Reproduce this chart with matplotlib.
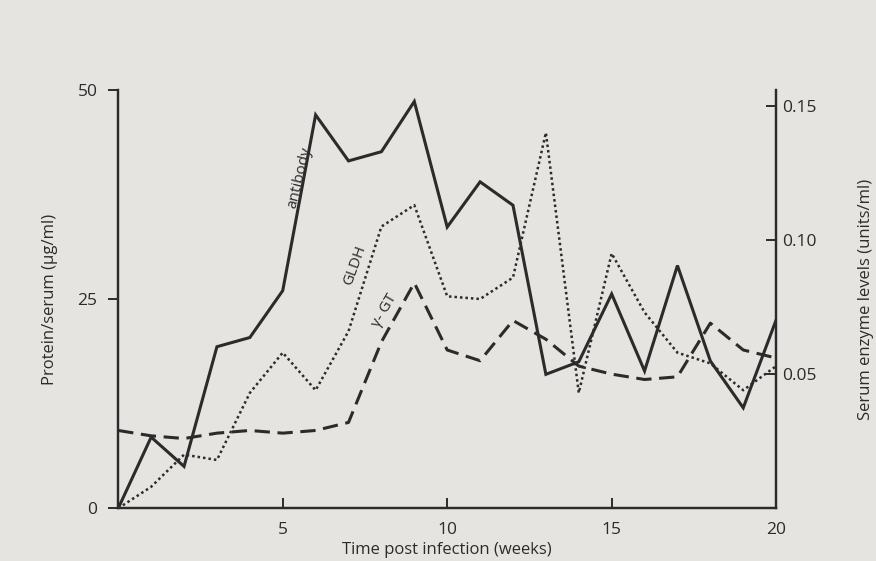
import numpy as np
import matplotlib
matplotlib.use('Agg')
import matplotlib.pyplot as plt

# Weeks after infection
weeks = list(range(21))

# Antibody, protein/serum (ug/ml) - left axis
antibody = [0, 8.5, 5, 19.3, 20.4, 26, 47, 41.5, 42.6, 48.6, 33.6,
            39, 36.2, 16, 17.5, 25.6, 16.4, 29, 17.6, 12, 22.5]

# Serum enzyme levels (units/ml) - right axis
gldh = [0, 0.008, 0.020, 0.018, 0.043, 0.058, 0.044, 0.066, 0.105, 0.113, 0.079,
        0.078, 0.086, 0.140, 0.043, 0.095, 0.073, 0.058, 0.054, 0.044, 0.053]
ggt = [0.029, 0.027, 0.026, 0.028, 0.029, 0.028, 0.029, 0.032, 0.062, 0.084, 0.059,
       0.055, 0.070, 0.063, 0.053, 0.050, 0.048, 0.049, 0.069, 0.059, 0.056]

left_ticks = [0, 25, 50]
right_ticks = [0.05, 0.10, 0.15]
right_labels = ['0.05', '0.10', '0.15']
x_ticks = [5, 10, 15, 20]

ink = '#2b2b2b'
paper = '#e6e4e1'
plt.rcParams['font.family'] = ['Open Sans', 'DejaVu Sans']

fig = plt.figure(figsize=(8.76, 5.61), dpi=100, facecolor=paper)
ax = fig.add_axes([0.135, 0.094, 0.751, 0.746])
ax.set_facecolor(paper)
ax2 = ax.twinx()

ax.plot(weeks, antibody, color=ink, lw=2.2, solid_joinstyle='miter')
ax2.plot(weeks, gldh, color=ink, lw=1.8, linestyle=(0, (1, 1.2)))
ax2.plot(weeks, ggt, color=ink, lw=2.2, linestyle=(0, (5, 2.5)))

ax.set_xlim(0, 20)
ax.set_ylim(0, 50)
ax2.set_ylim(0, 0.156)

for a in (ax, ax2):
    a.spines['top'].set_visible(False)
    for s in a.spines.values():
        s.set_color(ink)
        s.set_linewidth(1.6)

ax.set_xticks(x_ticks)
ax.set_yticks(left_ticks)
ax.tick_params(axis='x', direction='in', length=7, width=1.4, colors=ink,
               labelsize=12.5, pad=10)
ax.tick_params(axis='y', direction='out', length=7, width=1.4, colors=ink,
               labelsize=12.5, pad=8)
ax2.set_yticks(right_ticks)
ax2.set_yticklabels(right_labels)
ax2.tick_params(axis='y', direction='in', length=7, width=1.4, colors=ink,
                labelsize=12.5, pad=4)

ax.set_xlabel('Time post infection (weeks)', fontsize=12, color=ink, labelpad=3)
ax.set_ylabel('Protein/serum (\u03bcg/ml)', fontsize=12, color=ink, labelpad=14)
ax2.set_ylabel('Serum enzyme levels (units/ml)', fontsize=12, color=ink, labelpad=30)

# Curve labels written along the lines
ax.text(5.5, 39.5, 'antibody', rotation=76, fontsize=11, color=ink,
        ha='center', va='center')
ax.text(7.2, 29, 'GLDH', rotation=70, fontsize=11, color=ink,
        ha='center', va='center')
ax.text(8.1, 23.6, '\u03b3- GT', rotation=60, fontsize=11, color=ink,
        ha='center', va='center')

fig.savefig('out.png', dpi=100, facecolor=paper)
